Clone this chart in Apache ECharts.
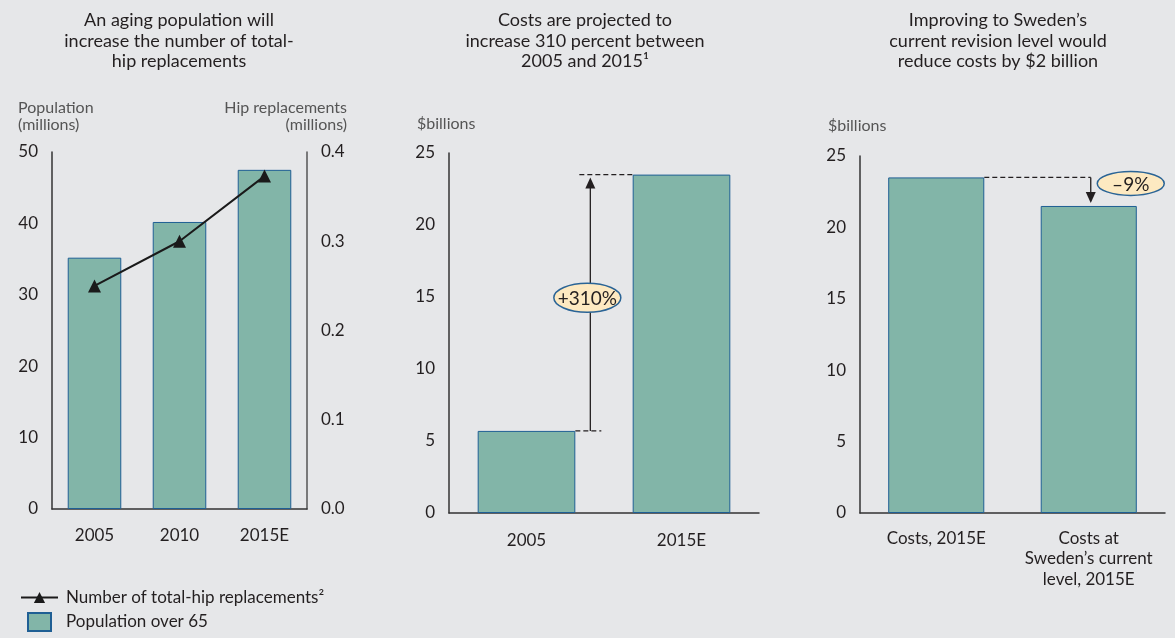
<!DOCTYPE html>
<html style="height: 100%">
<head>
    <meta charset="utf-8">
</head>
<body style="height: 100%; margin: 0; background: #e6e7e9">
    <div id="main" style="width: 1175px; height: 638px"></div>
    <script src="https://cdn.jsdelivr.net/npm/echarts@6/dist/echarts.min.js"></script>
    <script type="text/javascript">

        // panel 1: population and hip replacements
        var years = ['2005', '2010', '2015E'];
        var population = [35.2, 40.2, 47.5];          // millions over 65
        var hipReplacements = [0.25, 0.30, 0.373];    // millions

        // panel 2: costs
        var costYears = ['2005', '2015E'];
        var costs = [5.7, 23.5];                      // $billions

        // panel 3: Sweden comparison
        var swedenCats = ['Costs, 2015E', 'Costs at\nSweden\u2019s current\nlevel, 2015E'];
        var swedenCosts = [23.5, 21.5];

        var titles = [
            'An aging population will\nincrease the number of total-\nhip replacements',
            'Costs are projected to\nincrease 310 percent between\n2005 and 2015\u00b9',
            'Improving to Sweden\u2019s\ncurrent revision level would\nreduce costs by $2 billion'
        ];

        var FONT = 'Lato, "Open Sans", sans-serif';
        var TXT = '#231f20';
        var BAR = '#82b5a8';
        var BAR_EDGE = '#1f5f94';

        var chartDom = document.getElementById('main');
        var myChart = echarts.init(chartDom, null, { renderer: 'canvas' });

        function valAxis(grid, max, interval, pos, lineColor, fmt) {
            return {
                type: 'value', gridIndex: grid, min: 0, max: max, interval: interval,
                position: pos,
                axisLine: { show: true, lineStyle: { color: lineColor, width: 1.5 } },
                axisTick: { show: false },
                splitLine: { show: false },
                axisLabel: { color: TXT, fontSize: 17, fontFamily: FONT, margin: 14, formatter: fmt }
            };
        }
        function catAxis(grid, data, margin) {
            return {
                type: 'category', gridIndex: grid, data: data,
                axisLine: { lineStyle: { color: '#333', width: 1.5 } },
                axisTick: { show: false },
                axisLabel: { color: TXT, fontSize: 17, fontFamily: FONT, margin: margin, lineHeight: 20.5, interval: 0 }
            };
        }
        var barStyle = { color: BAR, borderColor: BAR_EDGE, borderWidth: 1 };

        var option = {
            backgroundColor: '#e6e7e9',
            animation: false,
            textStyle: { fontFamily: FONT },
            title: [179, 585, 998].map(function (x, i) {
                return {
                    text: titles[i], left: x, top: 10, textAlign: 'center', padding: 0,
                    textStyle: { fontSize: 18, fontWeight: 'normal', color: TXT, lineHeight: 20.5, fontFamily: FONT }
                };
            }),
            grid: [
                { left: 52, top: 152, width: 255, height: 357 },
                { left: 449, top: 153, width: 310, height: 360 },
                { left: 860, top: 156, width: 305, height: 357 }
            ],
            xAxis: [
                catAxis(0, years, 16),
                catAxis(1, costYears, 17),
                catAxis(2, swedenCats, 15)
            ],
            yAxis: [
                valAxis(0, 50, 10, 'left', '#333'),
                valAxis(0, 0.4, 0.1, 'right', '#555', function (v) { return v.toFixed(1); }),
                valAxis(1, 25, 5, 'left', '#333'),
                valAxis(2, 25, 5, 'left', '#333')
            ],
            legend: [
                {
                    data: ['Number of total-hip replacements\u00b2'], left: 20, top: 589,
                    itemWidth: 37, itemHeight: 14, padding: 0,
                    textStyle: { color: TXT, fontSize: 17, fontFamily: FONT, padding: [0, 0, 0, 3] }
                },
                {
                    data: [{ name: 'Population over 65', icon: 'rect' }], left: 27, top: 612,
                    itemWidth: 23, itemHeight: 18, padding: 0,
                    textStyle: { color: TXT, fontSize: 17, fontFamily: FONT, padding: [0, 0, 0, 10] }
                }
            ],
            series: [
                {
                    name: 'Population over 65', type: 'bar', xAxisIndex: 0, yAxisIndex: 0,
                    data: population, barWidth: '63%', itemStyle: barStyle
                },
                {
                    name: 'Number of total-hip replacements\u00b2', type: 'line', xAxisIndex: 0, yAxisIndex: 1,
                    data: hipReplacements, symbol: 'triangle', symbolSize: 13,
                    itemStyle: { color: '#1a1a1a' }, lineStyle: { color: '#1a1a1a', width: 2 }
                },
                {
                    name: 'costs', type: 'bar', xAxisIndex: 1, yAxisIndex: 2,
                    data: costs, barWidth: '63%', itemStyle: barStyle
                },
                {
                    name: 'sweden', type: 'bar', xAxisIndex: 2, yAxisIndex: 3,
                    data: swedenCosts, barWidth: '63%', itemStyle: barStyle
                }
            ]
        };
        myChart.setOption(option);

        // annotations, placed from data through the axes
        function px(grid, cat, val) {
            return myChart.convertToPixel({ gridIndex: grid }, [cat, val]);
        }
        function dash(x1, y1, x2, y2) {
            return { type: 'line', shape: { x1: x1, y1: y1, x2: x2, y2: y2 },
                     style: { stroke: '#231f20', lineWidth: 1.3, lineDash: [5, 3] } };
        }
        function solid(x1, y1, x2, y2) {
            return { type: 'line', shape: { x1: x1, y1: y1, x2: x2, y2: y2 },
                     style: { stroke: '#231f20', lineWidth: 1.3 } };
        }
        function head(x, y, dir) {
            // dir -1 = pointing up, 1 = pointing down
            return { type: 'polygon', shape: { points: [[x, y], [x - 5, y - dir * 11], [x + 5, y - dir * 11]] },
                     style: { fill: '#231f20' } };
        }
        function bubble(cx, cy, rx, ry, text) {
            return [
                { type: 'ellipse', shape: { cx: cx, cy: cy, rx: rx, ry: ry },
                  style: { fill: '#fde9c1', stroke: '#2a6496', lineWidth: 1.5 } },
                { type: 'text', x: cx, y: cy + 1,
                  style: { text: text, fill: TXT, font: '19px ' + FONT, textAlign: 'center', textVerticalAlign: 'middle' } }
            ];
        }

        var a0 = px(1, 0, costs[0]), a1 = px(1, 1, costs[1]);
        var halfA = (a1[0] - a0[0]) * 0.315;
        var arrowX = a0[0] + halfA + 15;
        var b0 = px(2, 0, swedenCosts[0]), b1 = px(2, 1, swedenCosts[1]);
        var halfB = (b1[0] - b0[0]) * 0.315;
        var downX = b1[0] + 2;

        var gfx = [
            { type: 'text', x: 18, y: 99,
              style: { text: 'Population\n(millions)', fill: '#555', font: '16px ' + FONT, lineHeight: 17 } },
            { type: 'text', x: 347, y: 99,
              style: { text: 'Hip replacements\n(millions)', fill: '#555', font: '16px ' + FONT, lineHeight: 17, textAlign: 'right' } },
            { type: 'text', x: 417, y: 116,
              style: { text: '$billions', fill: '#555', font: '16px ' + FONT } },
            { type: 'text', x: 828, y: 118,
              style: { text: '$billions', fill: '#555', font: '16px ' + FONT } },

            dash(a0[0] + halfA, a0[1], a0[0] + halfA + 26, a0[1]),
            dash(arrowX - 11, a1[1], a1[0] - halfA, a1[1]),
            solid(arrowX, a0[1], arrowX, a1[1] + 8),
            head(arrowX, a1[1] + 3, -1),

            dash(b0[0] + halfB, b0[1], downX, b0[1]),
            solid(downX, b0[1], downX, b1[1] - 8),
            head(downX, b1[1] - 3, 1)
        ];
        gfx = gfx.concat(bubble(arrowX - 3, (a0[1] + a1[1]) / 2 - 5, 33.5, 14.5, '+310%'));
        gfx = gfx.concat(bubble(downX + 40, b0[1] + 6, 33.5, 12, '\u20139%'));

        myChart.setOption({ graphic: gfx });

    </script>
</body>
</html>
